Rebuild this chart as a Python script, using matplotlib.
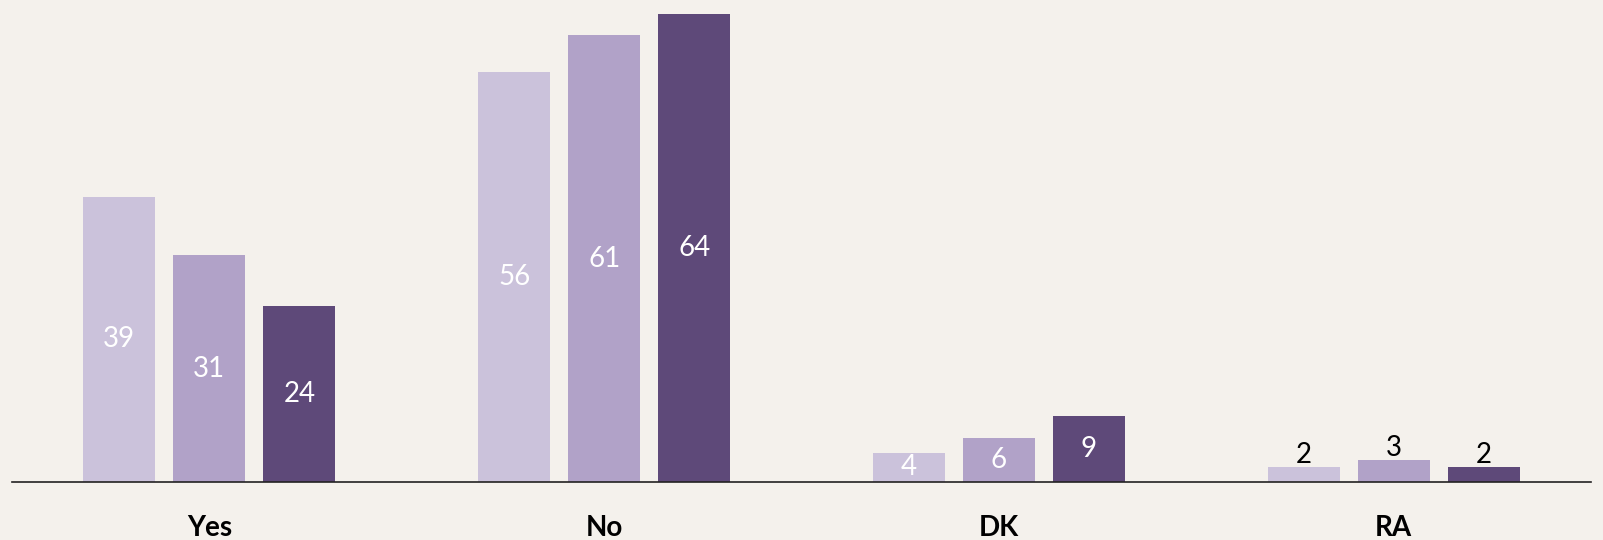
import numpy as np
import matplotlib.pyplot as plt

# Data
categories = ['Yes', 'No', 'DK', 'RA']
series_a = [39, 56, 4, 2]
series_b = [31, 61, 6, 3]
series_c = [24, 64, 9, 2]

colors = ['#CBC2DB', '#B1A2C8', '#5E4979']
bg = '#F4F1EC'

plt.rcParams['font.family'] = ['Lato', 'DejaVu Sans']

fig = plt.figure(figsize=(16.03, 5.40), dpi=100, facecolor=bg)
ax = fig.add_axes([12 / 1603, 58 / 540, 1579 / 1603, 478 / 540])
ax.set_facecolor(bg)

x = np.arange(len(categories))
width = 0.182
step = 0.228

for i, (vals, col) in enumerate(zip([series_a, series_b, series_c], colors)):
    pos = x + (i - 1) * step
    ax.bar(pos, vals, width=width, color=col)
    for p, v in zip(pos, vals):
        if v >= 4:
            ax.text(p, v / 2, str(v), ha='center', va='center',
                    color='white', fontsize=20)
        else:
            ax.text(p, v - 0.1, str(v), ha='center', va='bottom',
                    color='black', fontsize=20)

ax.set_xlim(-0.5, 3.5)
ax.set_ylim(0, 65.3)
ax.set_xticks(x)
ax.set_xticklabels(categories, fontsize=20, fontweight='bold')
ax.tick_params(axis='x', length=0, pad=24)
ax.set_yticks([])
for s in ['top', 'right', 'left']:
    ax.spines[s].set_visible(False)
ax.spines['bottom'].set_color('#222222')
ax.spines['bottom'].set_linewidth(1.2)

fig.savefig('out.png', dpi=100, facecolor=bg)
